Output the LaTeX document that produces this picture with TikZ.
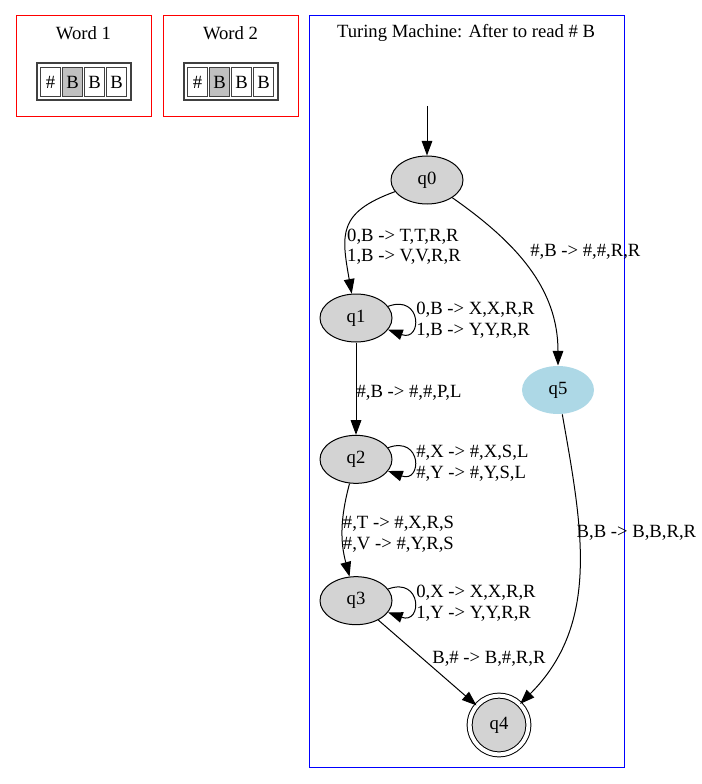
\documentclass[tikz,border=0pt]{standalone}
\usepackage{fontspec}
\setmainfont{Liberation Serif}
\usetikzlibrary{arrows.meta, positioning, shapes.geometric}
\definecolor{stategray}{HTML}{D3D3D3}
\definecolor{q5blue}{HTML}{ADD8E6}
\definecolor{headgray}{HTML}{C0C0C0}

\begin{document}
\begin{tikzpicture}[x=0.75pt, y=-0.75pt, line width=0.75pt, >={Triangle[length=11pt, width=8pt]},
  font=\fontsize{14}{15.5}\selectfont, node distance=106pt, on grid,
  st/.style={ellipse, draw, fill=stategray, minimum width=54pt, minimum height=36pt, inner sep=0pt},
  fin/.style={circle, draw, fill=stategray, double, double distance=3pt, minimum size=44pt, inner sep=0pt},
  cell/.style={draw=black!75, minimum width=15pt, minimum height=21.75pt, inner sep=0pt},
  lbl/.style={align=left, inner sep=0pt}]
  \useasboundingbox (0,0) rectangle (702,784);
  % Words
  \foreach \w/\dx in {1/0, 2/147} {
    \begin{scope}[shift={(\dx,0)}]
      \node[draw=red, minimum width=101.25pt, minimum height=75.75pt] (word\w) at (83.5,66.5) {};
      \node (word\w-title) at (83.5,33) {Word \w};
      \node[draw=black!75, line width=1.1pt, minimum width=70.5pt, minimum height=27.75pt] (tape\w) at (84,81.5) {};
      \foreach \c/\s/\f in {1/\#/white, 2/B/headgray, 3/B/white, 4/B/white}
        \node[cell, fill=\f] (tape\w-\c) at (28.5+22*\c,82) {\s};
    \end{scope}
  }
  % Machine
  \node[draw=blue, minimum width=236.25pt, minimum height=563.25pt] (tm) at (466.5,391.5) {};
  \node (tm-title) at (466,33) {Turing Machine: After to read \# B};
  % Nodes
  \coordinate (start) at (427,106);
  \node[st] (q0) at (427,180) {q0};
  \node[st] (q1) at (356,318) {q1};
  \node[st] (q2) [below=of q1] {q2};
  \node[st] (q3) [below=of q2] {q3};
  \node[st, draw=none, fill=q5blue] (q5) at (558,390) {q5};
  \node[fin] (q4) at (499,725) {q4};
  % Edges
  \path[->]
    (start) edge (q0)
    (q0) edge [out=200, in=100, looseness=1.4] node [lbl, anchor=west, xshift=-1pt, yshift=-14pt] {0,B -> T,T,R,R\\1,B -> V,V,R,R} (q1)
         edge [out=-35, in=90] node [lbl, pos=0.3, anchor=west, xshift=20pt, yshift=-10pt] {\#,B -> \#,\#,R,R} (q5)
    (q1) edge [out=20, in=-20, looseness=4] node [lbl, anchor=west, xshift=1.5pt, yshift=-1.5pt] {0,B -> X,X,R,R\\1,B -> Y,Y,R,R} (q1)
         edge node [lbl, anchor=west, yshift=-3pt] {\#,B -> \#,\#,P,L} (q2)
    (q2) edge [out=20, in=-20, looseness=4] node [lbl, anchor=west, xshift=1.5pt, yshift=-3pt] {\#,X -> \#,X,S,L\\\#,Y -> \#,Y,S,L} (q2)
         edge [out=255, in=105] node [lbl, anchor=west, yshift=-3pt] {\#,T -> \#,X,R,S\\\#,V -> \#,Y,R,S} (q3)
    (q3) edge [out=20, in=-20, looseness=4] node [lbl, anchor=west, xshift=1.5pt, yshift=-2pt] {0,X -> X,X,R,R\\1,Y -> Y,Y,R,R} (q3)
         edge node [lbl, pos=0.45, anchor=west, xshift=7pt] {B,\# -> B,\#,R,R} (q4)
    (q5) edge [out=-80, in=45] node [lbl, pos=0.37, anchor=west, xshift=-2pt] {B,B -> B,B,R,R} (q4);
\end{tikzpicture}
\end{document}
